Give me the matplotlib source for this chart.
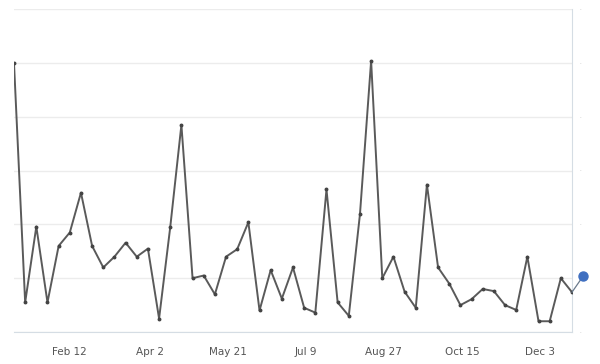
import numpy as np
import pandas as pd
import matplotlib
matplotlib.use('Agg')
from matplotlib import pyplot as plt
import matplotlib.dates as mdates

# weekly values, Jan 8 .. Dec 23 2012
weeks = pd.date_range('2012-01-08', periods=51, freq='7D')
values = [50, 5.5, 19.6, 5.5, 16, 18.5, 25.9, 16, 12, 14,
          16.6, 14, 15.5, 2.5, 19.5, 38.5, 10, 10.5, 7, 14,
          15.4, 20.4, 4, 11.5, 6.2, 12, 4.5, 3.6, 26.5, 5.5,
          3, 21.9, 50.4, 10, 14, 7.5, 4.5, 27.4, 12, 9,
          5, 6.1, 8, 7.6, 5, 4.1, 14, 2, 2, 10, 7.4]
# current (partial) week
last_week = pd.Timestamp('2012-12-30')
last_value = 10.4

tick_dates = pd.to_datetime(['2012-02-12', '2012-04-02', '2012-05-21', '2012-07-09',
                             '2012-08-27', '2012-10-15', '2012-12-03'])
tick_labels = ['Feb 12', 'Apr 2', 'May 21', 'Jul 9', 'Aug 27', 'Oct 15', 'Dec 3']
y_ticks = [0, 10, 20, 30, 40, 50, 60]

fig = plt.figure(figsize=(6, 3.64), dpi=100)
ax = fig.add_axes([14 / 600, 32 / 364, 558 / 600, 322.7 / 364])

ax.plot(weeks, values, color='#5a5a5a', lw=1.4, marker='o', ms=1.8,
        markerfacecolor='#444444', markeredgecolor='#444444', zorder=3)
ax.plot([weeks[-1], last_week], [values[-1], last_value], color='#6a7a8c', lw=0.9,
        clip_on=False, zorder=3)
ax.plot([last_week], [last_value], 'o', color='#3f6fc0', ms=6.5, clip_on=False, zorder=4)

ax.set_xlim(weeks[0], weeks[-1])
ax.set_ylim(0, 60)
ax.set_xticks(tick_dates)
ax.set_xticklabels(tick_labels)
ax.set_yticks(y_ticks)
ax.grid(axis='y', color='#ececec', lw=1)
ax.set_axisbelow(True)

for s in ['top', 'left']:
    ax.spines[s].set_visible(False)
ax.spines['bottom'].set_color('#d5dde4')
ax.spines['right'].set_color('#d5dde4')

ax.tick_params(axis='x', length=0, labelsize=7.5, labelcolor='#555555', pad=11)
ax.yaxis.tick_right()
ax.tick_params(axis='y', length=0, pad=5, labelsize=4, labelcolor='#aaaaaa')
ax.set_yticklabels(['·'] * len(y_ticks))

fig.savefig('out.png', dpi=100)
